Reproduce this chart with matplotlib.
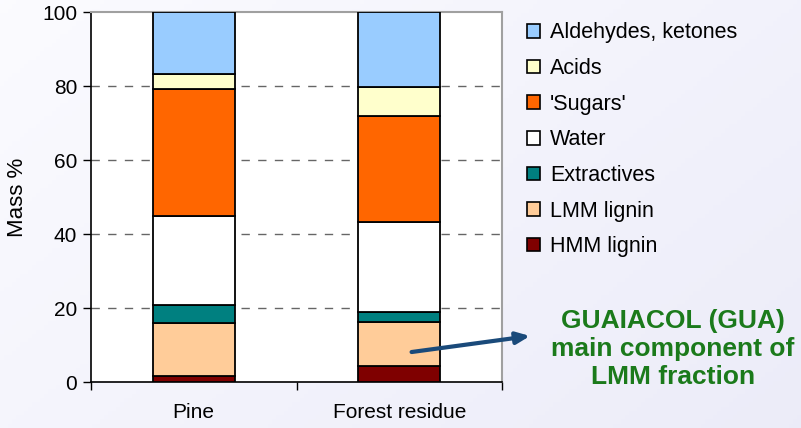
import matplotlib
matplotlib.use("Agg")
import matplotlib.pyplot as plt
import numpy as np

plt.rcParams['font.family'] = ['Liberation Sans', 'DejaVu Sans']

categories = ["Pine", "Forest residue"]
components = ["HMM lignin", "LMM lignin", "Extractives", "Water", "'Sugars'", "Acids", "Aldehydes, ketones"]
pine = [1.5, 14.4, 4.9, 24.1, 34.3, 4.0, 16.8]
forest = [4.3, 11.9, 2.8, 24.2, 28.7, 7.8, 20.3]
colors = ["#7F0000", "#FFCC99", "#008080", "#FFFFFF", "#FF6600", "#FFFFCC", "#99CCFF"]
yticks = [0, 20, 40, 60, 80, 100]
note = "GUAIACOL (GUA)\nmain component of\nLMM fraction"

W, H = 801, 428
fig = plt.figure(figsize=(W/100, H/100), dpi=100)

# background gradient
bg = fig.add_axes([0, 0, 1, 1], zorder=-10)
gx, gy = np.meshgrid(np.linspace(0, 1, 200), np.linspace(0, 1, 100))
g = (gx * 0.6 + gy * 0.4)
c0 = np.array([0.985, 0.985, 1.0])
c1 = np.array([0.925, 0.925, 0.975])
img = c0[None, None, :] * (1 - g[..., None]) + c1[None, None, :] * g[..., None]
bg.imshow(img, aspect='auto', extent=[0, 1, 0, 1], origin='upper')
bg.axis('off')

ax = fig.add_axes([91/W, 1-382/H, (502-91)/W, (382-12)/H])
ax.set_facecolor('white')

x = np.arange(len(categories))
data = np.array([pine, forest])
bottom = np.zeros(len(categories))
handles = []
for i, comp in enumerate(components):
    vals = data[:, i]
    b = ax.bar(x, vals, width=0.4, bottom=bottom, color=colors[i], edgecolor='black',
               linewidth=1.3, label=comp, zorder=3)
    handles.append(b)
    bottom += vals

ax.set_xlim(-0.5, 1.5)
ax.set_ylim(0, 100)
ax.set_yticks(yticks)
ax.set_yticklabels([str(t) for t in yticks], fontsize=15)
ax.set_xticks(x)
ax.set_xticklabels(categories, fontsize=15)
ax.set_xticks([-0.5, 0.5, 1.5], minor=True)
ax.tick_params(axis='x', which='major', length=0, pad=15)
ax.tick_params(axis='x', which='minor', length=6, width=1, direction='out')
ax.tick_params(axis='y', length=6, width=1, direction='out', pad=4)
for t in [20, 40, 60, 80]:
    ax.axhline(t, color='#666666', linestyle=(0, (6, 6)), linewidth=1, zorder=1)

ax.spines['top'].set_color('#A0A0A0')
ax.spines['right'].set_color('#A0A0A0')
ax.spines['top'].set_linewidth(1.5)
ax.spines['right'].set_linewidth(1.5)
ax.spines['left'].set_linewidth(1.2)
ax.spines['bottom'].set_linewidth(1.2)

ax.set_ylabel("Mass %", fontsize=16, labelpad=10)

leg = fig.legend(handles[::-1], components[::-1], loc='upper left',
                 bbox_to_anchor=(508/W, 1-3/H), frameon=False, fontsize=15.5,
                 handlelength=0.6, handleheight=0.6, handletextpad=0.45,
                 labelspacing=0.68)
for p in leg.get_patches():
    p.set_linewidth(1.2)

ax.annotate('', xy=(530/W, 1-336/H), xycoords='figure fraction',
            xytext=(1.06, 8.1), textcoords='data',
            arrowprops=dict(arrowstyle='-|>,head_length=0.8,head_width=0.35',
                            color='#1A4A7A', lw=3, shrinkA=0, shrinkB=0),
            annotation_clip=False, zorder=5)

fig.text(673/W, 1-349/H, note, ha='center', va='center', fontsize=19,
         fontweight='bold', color='#1B7A1B', linespacing=1.2)

fig.savefig("out.png", dpi=100)
